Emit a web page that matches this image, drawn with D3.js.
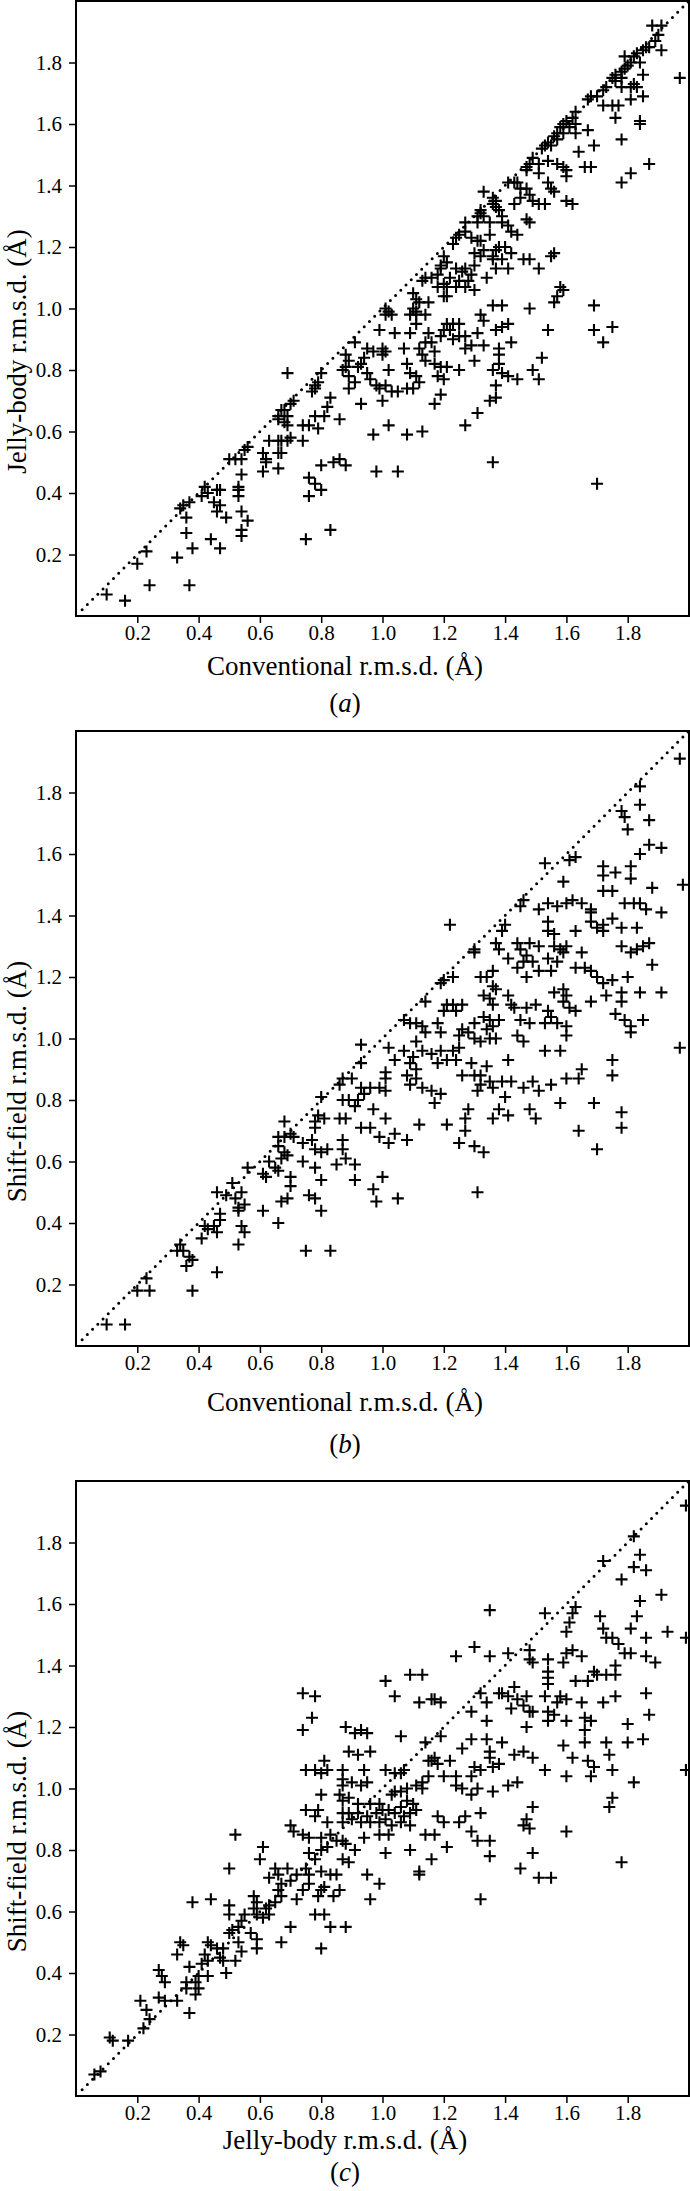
<!DOCTYPE html>
<html>
<head>
<meta charset="utf-8">
<script src="https://cdnjs.cloudflare.com/ajax/libs/d3/7.8.5/d3.min.js"></script>
<style>
body { margin: 0; background: #fff; }
svg { display: block; }
text { font-family: "Liberation Serif", "Times New Roman", serif; fill: #000; }
</style>
</head>
<body>
<div id="chart"></div>
<script>

var width = 690,
    height = 2191;

var tickValues = [0.2, 0.4, 0.6, 0.8, 1.0, 1.2, 1.4, 1.6, 1.8];
var xLabels = ["Conventional r.m.s.d. (Å)", "Conventional r.m.s.d. (Å)", "Jelly-body r.m.s.d. (Å)"];
var yLabels = ["Jelly-body r.m.s.d. (Å)", "Shift-field r.m.s.d. (Å)", "Shift-field r.m.s.d. (Å)"];
var captions = ["a", "b", "c"];

// (a) conventional (x) vs jelly-body (y)
var jellyVsConventional = [
[1.88,1.92],[1.91,1.92],[1.90,1.89],[1.89,1.87],[1.91,1.84],[1.87,1.85],[1.86,1.85],[1.85,1.84],[1.83,1.83],[1.82,1.82],[1.81,1.80],[1.79,1.82],[1.84,1.80],[1.80,1.79],[1.79,1.78],[1.78,1.77],[1.76,1.76],[1.75,1.75],[1.76,1.74],[1.78,1.75],[1.85,1.76],[1.82,1.73],[1.81,1.72],[1.78,1.72],[1.73,1.72],[1.72,1.71],[1.70,1.69],[1.72,1.66],[1.75,1.66],[1.77,1.66],[1.81,1.68],[1.85,1.69],[1.83,1.72],[1.97,1.75],[1.68,1.69],[1.67,1.68],
[1.76,1.62],[1.84,1.61],[1.84,1.60],[1.78,1.55],
[1.63,1.64],[1.62,1.62],[1.60,1.61],[1.59,1.60],[1.58,1.59],[1.57,1.57],[1.59,1.57],[1.61,1.59],[1.63,1.60],[1.67,1.58],[1.63,1.57],
[1.56,1.56],[1.54,1.54],[1.53,1.53],[1.52,1.52],[1.55,1.53],[1.57,1.55],[1.64,1.51],[1.69,1.53],
[1.49,1.49],[1.48,1.47],[1.47,1.46],[1.47,1.45],[1.51,1.47],[1.54,1.48],[1.57,1.47],[1.59,1.46],[1.60,1.45],[1.60,1.43],[1.66,1.46],[1.68,1.46],[1.51,1.44],
[1.87,1.47],[1.81,1.44],[1.78,1.41],
[1.43,1.41],[1.41,1.41],[1.44,1.41],[1.45,1.39],[1.47,1.39],[1.48,1.37],[1.45,1.36],[1.43,1.34],[1.49,1.35],[1.53,1.34],[1.51,1.34],[1.54,1.41],[1.55,1.39],[1.56,1.38],[1.60,1.35],[1.62,1.34],
[1.33,1.38],[1.36,1.36],[1.37,1.35],[1.36,1.34],[1.37,1.33],[1.38,1.32],[1.32,1.32],[1.32,1.31],[1.33,1.30],[1.35,1.28],[1.31,1.30],[1.31,1.28],[1.39,1.30],[1.39,1.28],[1.41,1.27],[1.47,1.29],[1.48,1.28],[1.44,1.24],[1.42,1.25],
[1.27,1.28],[1.27,1.25],[1.25,1.24],[1.24,1.23],[1.23,1.21],[1.29,1.23],[1.31,1.22],[1.35,1.24],[1.32,1.22],
[1.33,1.19],[1.37,1.19],[1.38,1.20],[1.40,1.20],[1.42,1.18],[1.36,1.17],[1.36,1.16],[1.39,1.16],[1.37,1.13],[1.41,1.13],[1.34,1.10],
[1.46,1.16],[1.48,1.16],[1.51,1.13],[1.55,1.17],[1.56,1.18],
[1.30,1.18],[1.32,1.17],[1.30,1.14],[1.27,1.13],[1.26,1.12],[1.29,1.11],[1.28,1.09],[1.25,1.09],[1.24,1.07],[1.27,1.07],[1.30,1.06],[1.21,1.15],[1.20,1.17],[1.19,1.14],[1.19,1.13],[1.18,1.11],[1.20,1.08],[1.18,1.07],[1.21,1.07],[1.22,1.10],[1.24,1.13],
[1.14,1.10],[1.13,1.09],[1.16,1.10],
[1.58,1.07],[1.59,1.06],[1.57,1.04],[1.56,1.02],
[1.10,1.05],[1.11,1.03],[1.12,1.02],[1.10,1.00],[1.11,0.99],[1.15,1.02],[1.20,1.04],[1.21,1.04],
[1.36,1.01],[1.39,1.01],[1.48,1.00],[1.69,1.01],
[1.01,1.00],[1.02,0.99],[1.01,0.98],[1.03,0.98],[1.09,0.98],[1.11,0.98],[1.14,0.98],
[1.32,0.98],[1.33,0.96],[1.37,0.93],[1.41,0.95],[1.39,0.94],[1.54,0.93],[1.69,0.93],[1.72,0.89],[1.75,0.94],
[1.21,0.95],[1.23,0.95],[1.25,0.95],[1.22,0.93],[1.20,0.93],[1.19,0.91],[1.23,0.90],[1.25,0.91],[1.27,0.91],[1.15,0.92],[1.14,0.89],[1.16,0.89],[1.12,0.87],
[0.99,0.93],[1.04,0.92],[1.09,0.92],[1.11,0.95],
[1.31,0.92],[1.29,0.88],[1.33,0.88],[1.38,0.87],[1.42,0.89],[1.27,0.87],[1.30,0.83],[1.38,0.85],
[0.91,0.89],[0.95,0.87],[1.00,0.87],[1.01,0.86],[1.00,0.85],[0.97,0.86],[0.94,0.84],[0.93,0.82],[0.92,0.81],[0.89,0.83],[0.88,0.85],[0.88,0.81],[0.87,0.80],[0.89,0.78],[0.91,0.76],[0.89,0.74],[0.95,0.79],[0.96,0.77],[0.98,0.75],[0.99,0.74],[1.02,0.80],[1.03,0.73],[1.07,0.87],[1.08,0.82],[1.09,0.79],[1.11,0.78],[1.12,0.76],[1.10,0.74],[1.08,0.74],[1.05,0.73],[1.01,0.75],
[1.17,0.86],[1.13,0.85],[1.14,0.83],[1.17,0.82],[1.19,0.81],[1.21,0.81],[1.18,0.78],[1.20,0.77],[1.25,0.80],
[1.36,0.80],[1.38,0.82],[1.39,0.79],[1.41,0.78],[1.44,0.77],[1.37,0.75],[1.49,0.80],[1.51,0.77],[1.52,0.84],
[0.78,0.75],[0.79,0.76],[0.80,0.79],[0.78,0.74],[0.77,0.73],[0.83,0.71],[0.82,0.68],[0.81,0.65],[0.86,0.64],[0.78,0.65],[0.74,0.62],[0.76,0.62],[0.79,0.61],[0.74,0.57],
[0.93,0.69],[1.00,0.70],[1.02,0.62],[0.97,0.59],[1.08,0.59],[1.13,0.60],
[1.19,0.72],[1.17,0.69],[1.35,0.70],[1.37,0.71],[1.31,0.66],[1.27,0.62],
[0.80,0.49],[0.84,0.50],[0.86,0.51],[0.88,0.49],[0.98,0.47],[1.05,0.47],[1.36,0.50],[1.70,0.43],
[0.76,0.45],[0.78,0.43],[0.80,0.41],[0.76,0.39],
[0.69,0.79],[0.66,0.65],[0.67,0.67],[0.68,0.67],[0.69,0.65],[0.68,0.63],[0.70,0.69],[0.71,0.70],[0.66,0.64],[0.69,0.62],[0.63,0.57],[0.66,0.57],[0.67,0.57],[0.69,0.57],[0.70,0.58],[0.61,0.53],[0.62,0.51],[0.62,0.50],[0.61,0.47],[0.66,0.48],[0.66,0.53],[0.67,0.53],
[0.50,0.51],[0.52,0.51],[0.54,0.51],[0.55,0.54],[0.56,0.55],[0.54,0.46],[0.53,0.42],[0.53,0.41],[0.53,0.39],[0.54,0.34],[0.56,0.31],[0.54,0.28],[0.54,0.26],
[0.42,0.42],[0.43,0.40],[0.41,0.39],[0.46,0.41],[0.47,0.41],[0.45,0.37],[0.47,0.36],[0.46,0.34],[0.49,0.32],[0.34,0.35],[0.35,0.36],[0.37,0.37],[0.36,0.32],[0.36,0.27],[0.33,0.19],[0.38,0.22],[0.44,0.25],[0.47,0.22],
[0.23,0.21],[0.20,0.17],[0.24,0.10],[0.37,0.10],[0.10,0.07],[0.16,0.05],[0.75,0.25],[0.83,0.28]
];

// (b) conventional (x) vs shift-field (y)
var shiftVsConventional = [
[1.97,1.91],[1.84,1.82],[1.84,1.76],[1.78,1.74],[1.79,1.72],[1.80,1.68],[1.87,1.71],[1.84,1.60],[1.87,1.63],[1.91,1.62],[1.61,1.58],[1.63,1.59],[1.53,1.57],[1.59,1.51],[1.72,1.56],[1.72,1.53],[1.76,1.54],[1.81,1.56],[1.81,1.52],[1.88,1.49],[1.98,1.50],[1.72,1.48],[1.75,1.48],
[1.46,1.45],[1.45,1.43],[1.51,1.42],[1.54,1.44],[1.57,1.43],[1.60,1.44],[1.62,1.45],[1.65,1.44],[1.68,1.42],[1.79,1.44],[1.82,1.44],[1.84,1.44],[1.86,1.42],[1.91,1.41],
[1.22,1.37],[1.40,1.37],[1.39,1.35],[1.54,1.38],[1.54,1.35],[1.56,1.34],[1.63,1.35],[1.68,1.41],[1.68,1.38],[1.70,1.36],[1.72,1.37],[1.72,1.35],[1.75,1.39],[1.78,1.36],[1.83,1.36],
[1.30,1.29],[1.30,1.28],[1.37,1.31],[1.38,1.29],[1.41,1.26],[1.44,1.31],[1.45,1.29],[1.48,1.31],[1.51,1.30],[1.47,1.27],[1.46,1.25],[1.44,1.23],[1.49,1.25],[1.47,1.20],[1.51,1.22],[1.54,1.26],[1.55,1.22],[1.57,1.25],[1.56,1.30],[1.58,1.29],[1.60,1.30],[1.59,1.28],[1.65,1.28],[1.63,1.23],[1.66,1.23],[1.68,1.22],[1.70,1.20],[1.72,1.18],[1.75,1.19],[1.78,1.30],[1.81,1.28],[1.83,1.29],[1.85,1.30],[1.87,1.31],[1.88,1.24],[1.80,1.20],[1.78,1.15],[1.84,1.15],[1.91,1.15],[1.73,1.14],[1.68,1.12],[1.78,1.12],[1.76,1.08],[1.79,1.06],[1.81,1.04],[1.81,1.02],[1.85,1.06],
[1.19,1.18],[1.20,1.19],[1.23,1.20],[1.32,1.20],[1.34,1.20],[1.36,1.22],[1.36,1.17],[1.37,1.16],[1.33,1.14],[1.35,1.13],[1.36,1.11],[1.41,1.14],[1.42,1.11],[1.43,1.10],[1.47,1.10],[1.50,1.11],[1.56,1.15],[1.59,1.16],[1.60,1.14],[1.59,1.12],[1.61,1.10],[1.63,1.09],[1.54,1.09],[1.55,1.07],[1.53,1.05],[1.57,1.05],[1.60,1.04],[1.60,1.01],[1.48,1.05],[1.45,1.06],
[1.14,1.12],[1.21,1.11],[1.23,1.11],[1.26,1.11],[1.20,1.09],[1.24,1.09],[1.07,1.06],[1.09,1.05],[1.11,1.05],[1.13,1.04],[1.18,1.05],[1.14,1.02],[1.19,1.02],
[1.33,1.07],[1.35,1.06],[1.38,1.06],[1.36,1.04],[1.34,1.03],[1.30,1.05],[1.26,1.03],[1.28,1.02],[1.25,1.01],[1.30,1.00],[1.32,0.99],[1.35,1.00],[1.37,1.00],[1.44,1.01],[1.46,0.99],
[0.93,0.98],[1.02,0.97],[1.07,0.96],[1.11,0.99],[1.13,0.96],[1.16,0.95],[1.19,0.96],[1.23,0.96],[1.25,0.97],[1.24,0.93],[1.21,0.93],[1.18,0.92],[1.04,0.93],[1.10,0.94],[1.09,0.92],[1.11,0.90],[0.93,0.92],[1.01,0.89],[1.01,0.87],[1.08,0.88],[1.09,0.85],[1.11,0.87],[1.13,0.84],[1.16,0.83],[1.17,0.79],[1.19,0.82],
[1.26,0.88],[1.29,0.92],[1.30,0.88],[1.32,0.88],[1.34,0.91],[1.35,0.86],[1.32,0.85],[1.36,0.84],[1.39,0.86],[1.41,0.93],[1.40,0.81],[1.31,0.83],[1.42,0.86],
[1.53,0.96],[1.58,0.96],[1.75,0.93],[1.75,0.88],[1.97,0.97],[1.46,0.84],[1.49,0.86],[1.51,0.83],[1.55,0.85],[1.60,0.87],[1.64,0.87],[1.65,0.90],[1.58,0.79],[1.69,0.79],[1.78,0.76],[1.78,0.71],[1.64,0.70],[1.70,0.64],
[1.28,0.77],[1.27,0.74],[1.27,0.70],[1.25,0.66],[1.30,0.65],[1.33,0.63],[1.21,0.72],[1.12,0.72],[1.31,0.50],[1.36,0.74],[1.38,0.77],[1.41,0.75],[1.48,0.77],[1.50,0.74],
[0.87,0.87],[0.90,0.87],[0.86,0.85],[0.93,0.84],[0.94,0.82],[0.96,0.84],[0.99,0.84],[1.01,0.83],[0.92,0.80],[0.89,0.80],[0.87,0.80],[0.91,0.78],[0.97,0.77],[1.01,0.74],[0.80,0.81],[0.79,0.75],[0.81,0.74],[0.78,0.73],[0.78,0.71],[0.86,0.74],[0.88,0.74],[0.93,0.71],[0.96,0.71],[0.99,0.68],[1.02,0.66],[1.04,0.69],[1.08,0.67],[0.87,0.67],[0.74,0.66],[0.77,0.67],[0.78,0.64],[0.80,0.63],[0.82,0.64],[0.87,0.64],[0.88,0.61],[0.85,0.59],[0.91,0.59],[0.74,0.60],[0.78,0.58],[0.80,0.54],[0.91,0.54],[1.00,0.55],[0.97,0.51],[0.76,0.49],[0.78,0.48],[0.80,0.44],[0.98,0.47],[1.05,0.48],
[0.68,0.73],[0.66,0.68],[0.68,0.68],[0.70,0.69],[0.71,0.68],[0.66,0.65],[0.68,0.63],[0.69,0.62],[0.67,0.61],[0.63,0.60],[0.65,0.58],[0.66,0.57],[0.61,0.56],[0.62,0.55],[0.70,0.55],[0.70,0.52],[0.69,0.48],[0.67,0.47],[0.61,0.44],[0.66,0.40],[0.56,0.58],[0.51,0.53],[0.46,0.50],[0.49,0.49],[0.54,0.50],[0.52,0.48],[0.53,0.45],[0.55,0.46],[0.53,0.44],[0.47,0.43],[0.47,0.41],[0.54,0.39],[0.55,0.37],[0.53,0.33],
[0.42,0.39],[0.43,0.38],[0.45,0.39],[0.46,0.37],[0.41,0.35],[0.46,0.24],[0.34,0.33],[0.33,0.31],[0.35,0.31],[0.37,0.29],[0.38,0.28],[0.36,0.26],[0.38,0.18],[0.23,0.22],[0.20,0.18],[0.24,0.18],[0.10,0.07],[0.16,0.07],[0.75,0.31],[0.83,0.31]
];

// (c) jelly-body (x) vs shift-field (y)
var shiftVsJelly = [
[1.99,1.92],[1.82,1.82],[1.84,1.76],[1.72,1.74],[1.82,1.72],[1.86,1.71],[1.78,1.68],[1.91,1.63],[1.84,1.61],[1.35,1.58],[1.53,1.57],[1.63,1.59],[1.62,1.57],[1.61,1.54],[1.60,1.51],[1.71,1.56],[1.72,1.52],[1.83,1.56],[1.81,1.52],[1.86,1.49],[1.93,1.51],[1.99,1.49],[1.73,1.49],[1.75,1.49],[1.77,1.47],
[1.24,1.43],[1.30,1.46],[1.35,1.43],[1.41,1.44],[1.48,1.45],[1.48,1.42],[1.49,1.41],[1.54,1.42],[1.59,1.41],[1.60,1.44],[1.62,1.45],[1.65,1.43],[1.79,1.44],[1.81,1.44],[1.86,1.43],[1.89,1.41],[1.76,1.40],[1.54,1.38],[1.54,1.36],[1.54,1.34],[1.63,1.35],[1.67,1.35],[1.69,1.38],[1.70,1.37],[1.73,1.37],[1.76,1.37],
[1.01,1.35],[1.09,1.37],[1.13,1.37],[1.04,1.30],[0.78,1.30],[0.74,1.31],[0.77,1.23],[0.74,1.19],[1.12,1.28],[1.16,1.29],[1.17,1.29],[1.19,1.28],[1.32,1.31],[1.34,1.28],[1.29,1.25],[1.34,1.22],[1.38,1.31],[1.39,1.31],[1.43,1.33],[1.41,1.30],[1.42,1.26],[1.44,1.29],[1.47,1.30],[1.46,1.27],[1.48,1.25],[1.49,1.25],[1.47,1.20],[1.53,1.30],[1.54,1.25],[1.56,1.24],[1.54,1.22],[1.58,1.30],[1.60,1.29],[1.65,1.28],[1.57,1.28],[1.60,1.22],[1.66,1.23],[1.68,1.22],[1.66,1.19],[1.72,1.28],[1.76,1.30],[1.86,1.31],[1.87,1.24],[1.80,1.21],[1.80,1.15],[1.85,1.16],[1.59,1.14],[1.66,1.15],[1.73,1.15],[1.74,1.11],[1.62,1.10],[1.67,1.09],[1.69,1.07],[1.68,1.04],[1.60,1.04],[1.53,1.06],[1.75,1.06],[1.82,1.02],[1.99,1.06],[1.75,0.97],[1.74,0.94],
[1.46,1.12],[1.49,1.10],[1.43,1.11],[1.39,1.15],[1.34,1.16],[1.35,1.12],[1.35,1.10],[1.38,1.08],[1.36,1.07],[1.29,1.16],[1.26,1.13],[1.30,1.07],[1.32,1.06],[1.29,1.04],[1.24,1.04],[1.24,1.01],[1.26,1.00],[1.31,1.00],[1.29,0.98],[1.36,0.99],[1.41,1.01],[1.44,1.02],
[1.14,1.15],[1.19,1.17],[1.17,1.10],[1.18,1.08],[1.16,1.09],[1.15,1.09],[1.22,1.09],[1.20,1.04],[1.15,1.04],[1.13,1.02],[1.13,1.00],[1.06,1.17],
[0.88,1.20],[0.91,1.18],[0.93,1.19],[0.95,1.18],[0.89,1.12],[0.92,1.11],[0.96,1.12],[0.81,1.09],[0.75,1.06],[0.78,1.06],[0.80,1.05],[0.82,1.06],[0.87,1.06],[0.94,1.06],[1.01,1.06],[1.04,1.05],[1.06,1.05],[1.07,1.06],[0.87,1.03],[0.87,1.01],[0.90,1.02],[0.93,1.01],[0.95,1.02],[1.04,0.99],[1.06,0.99],[1.08,1.00],[1.11,1.01],[1.03,0.98],
[0.80,0.98],[0.86,0.98],[0.87,0.96],[0.89,0.97],[0.92,0.95],[0.96,0.95],[0.99,0.95],[1.00,0.93],[1.02,0.93],[1.06,0.94],[1.08,0.96],[1.10,0.95],[1.11,0.93],[1.09,0.92],[1.07,0.91],[1.04,0.92],[1.01,0.90],[0.98,0.92],[0.95,0.91],[0.92,0.92],[0.89,0.92],[0.87,0.92],[0.75,0.93],[0.79,0.93],[0.78,0.91],[0.82,0.89],[0.87,0.89],[0.90,0.90],[0.93,0.89],[0.96,0.89],[0.99,0.89],[1.03,0.88],[1.06,0.89],[1.09,0.88],
[0.94,0.84],[0.99,0.85],[1.02,0.85],[0.74,0.85],[0.76,0.84],[0.80,0.84],[0.83,0.85],[0.85,0.83],[0.87,0.83],[0.88,0.82],[0.82,0.81],[0.80,0.80],[0.76,0.79],[0.91,0.80],[0.87,0.77],[0.89,0.76],[1.01,0.79],[1.09,0.80],[0.78,0.77],[0.75,0.74],[0.76,0.72],[0.80,0.73],[0.83,0.72],[0.85,0.72],[0.76,0.69],[0.74,0.67],[0.80,0.67],[0.81,0.68],[0.84,0.65],[0.86,0.67],[0.79,0.65],[0.95,0.72],[0.99,0.69],[0.96,0.64],[0.78,0.59],[0.81,0.59],[0.83,0.55],[0.88,0.55],[0.80,0.48],
[1.14,0.85],[1.17,0.85],[1.21,0.81],[1.16,0.77],[1.12,0.73],[1.12,0.72],[1.18,0.91],[1.20,0.89],[1.25,0.89],[1.27,0.91],[1.32,0.92],[1.29,0.86],[1.31,0.83],[1.35,0.83],[1.35,0.78],[1.49,0.94],[1.47,0.90],[1.46,0.88],[1.48,0.87],[1.60,0.86],[1.49,0.79],[1.45,0.74],[1.51,0.71],[1.55,0.71],[1.78,0.76],[1.32,0.64],
[0.52,0.85],[0.61,0.81],[0.60,0.77],[0.50,0.74],[0.38,0.63],[0.44,0.64],[0.70,0.88],[0.71,0.86],[0.65,0.74],[0.66,0.72],[0.63,0.71],[0.67,0.69],[0.69,0.74],[0.70,0.70],[0.72,0.72],[0.66,0.67],[0.67,0.65],[0.65,0.63],[0.63,0.62],[0.62,0.61],[0.63,0.59],[0.72,0.64],[0.70,0.55],[0.67,0.50],
[0.58,0.65],[0.59,0.63],[0.58,0.61],[0.59,0.59],[0.61,0.58],[0.55,0.59],[0.54,0.57],[0.50,0.62],[0.50,0.59],[0.53,0.55],[0.51,0.54],[0.50,0.53],[0.57,0.53],[0.59,0.51],[0.59,0.48],[0.53,0.50],[0.54,0.47],[0.52,0.44],[0.49,0.40],
[0.34,0.50],[0.35,0.49],[0.33,0.46],[0.43,0.50],[0.44,0.49],[0.46,0.48],[0.48,0.48],[0.42,0.46],[0.43,0.44],[0.41,0.43],[0.47,0.45],[0.48,0.44],[0.37,0.42],[0.40,0.39],[0.43,0.39],[0.39,0.37],[0.36,0.37],[0.36,0.35],[0.40,0.35],[0.39,0.33],
[0.27,0.41],[0.28,0.39],[0.29,0.37],[0.21,0.31],[0.27,0.32],[0.29,0.31],[0.33,0.31],[0.23,0.28],[0.24,0.25],[0.22,0.22],[0.37,0.27],[0.11,0.19],[0.12,0.18],[0.17,0.18],[0.06,0.07],[0.08,0.08]
];

var datasets = [jellyVsConventional, shiftVsConventional, shiftVsJelly];

// layout of the three stacked panels
var left = 76, plotW = 613, plotH = 615;
var panelTop = [1, 731, 1481];
var labelY = [666, 1402, 2140];
var captionY = [703, 1444, 2172];

var svg = d3.select("#chart")
    .append("svg")
    .attr("width", width)
    .attr("height", height);

var plus = "M-6,0H6M0,-6V6";

datasets.forEach(function (data, i) {

    var top = panelTop[i];

    var x = d3.scaleLinear().domain([0, 2]).range([left, left + plotW]);
    var y = d3.scaleLinear().domain([0, 2]).range([top + plotH, top]);

    var g = svg.append("g").attr("class", "panel");

    var xAxis = g.append("g")
        .attr("transform", "translate(0," + (top + plotH) + ")")
        .call(d3.axisBottom(x).tickValues(tickValues).tickSize(7).tickPadding(2).tickFormat(d3.format(".1f")));

    var yAxis = g.append("g")
        .attr("transform", "translate(" + left + ",0)")
        .call(d3.axisLeft(y).tickValues(tickValues).tickSize(7).tickPadding(7).tickFormat(d3.format(".1f")));

    [xAxis, yAxis].forEach(function (ax) {
        ax.attr("font-family", null);
        ax.select(".domain").remove();
        ax.selectAll("line").attr("stroke", "#000").attr("stroke-width", 1.5);
        ax.selectAll("text")
            .style("font-family", "'Liberation Serif', serif")
            .style("font-size", "21px")
            .attr("fill", "#000");
    });

    // dotted identity line
    g.append("line")
        .attr("x1", x(0.02)).attr("y1", y(0.02))
        .attr("x2", x(2)).attr("y2", y(2))
        .attr("stroke", "#000")
        .attr("stroke-width", 3)
        .attr("stroke-linecap", "round")
        .attr("stroke-dasharray", "0,7.4");

    g.selectAll("path.point")
        .data(data)
        .enter()
        .append("path")
        .attr("class", "point")
        .attr("d", plus)
        .attr("transform", function (d) { return "translate(" + x(d[0]) + "," + y(d[1]) + ")"; })
        .attr("stroke", "#000")
        .attr("stroke-width", 2.1)
        .attr("fill", "none");

    g.append("rect")
        .attr("x", left).attr("y", top)
        .attr("width", plotW).attr("height", plotH)
        .attr("fill", "none")
        .attr("stroke", "#000")
        .attr("stroke-width", 2);

    // axis titles and caption are centred on the page, not on the plot
    g.append("text")
        .attr("x", width / 2)
        .attr("y", labelY[i])
        .attr("text-anchor", "middle")
        .attr("dominant-baseline", "central")
        .style("font-size", "27px")
        .text(xLabels[i]);

    g.append("text")
        .attr("transform", "translate(17," + y(0.86) + ")rotate(-90)")
        .attr("text-anchor", "middle")
        .attr("dominant-baseline", "central")
        .style("font-size", "27px")
        .text(yLabels[i]);

    var cap = g.append("text")
        .attr("x", width / 2)
        .attr("y", captionY[i])
        .attr("text-anchor", "middle")
        .attr("dominant-baseline", "central")
        .style("font-size", "27px");
    cap.append("tspan").text("(");
    cap.append("tspan").style("font-style", "italic").text(captions[i]);
    cap.append("tspan").text(")");
});

</script>
</body>
</html>
